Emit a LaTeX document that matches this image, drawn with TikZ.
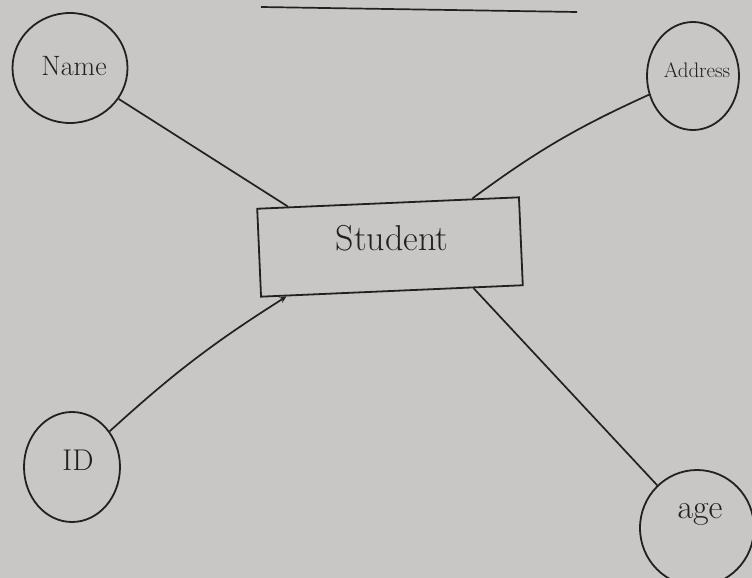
\documentclass[tikz,border=0pt]{standalone}
\usetikzlibrary{shapes.geometric,calc,arrows.meta}
\definecolor{paper}{RGB}{200,199,197}
\definecolor{ink}{RGB}{34,32,32}
\begin{document}
\begin{tikzpicture}[x=1pt,y=-1pt,
  attr/.style={ellipse,draw=ink,line width=1.8pt,inner sep=0pt,text=ink},
  entity/.style={rectangle,draw=ink,line width=1.8pt,minimum width=262pt,minimum height=88pt,text=ink,rotate=2.5},
  link/.style={draw=ink,line width=1.7pt},
  hand/.style={font=\fontsize{#1}{#1}\selectfont}]
  % paper
  \fill[paper] (0,0) rectangle (752,578);
  \useasboundingbox (0,0) rectangle (752,578);
  \clip (0,0) rectangle (752,578);

  % heading rule
  \coordinate (ruleA) at (261,7);
  \coordinate (ruleB) at (577,12);
  \draw[link] (ruleA) -- (ruleB);

  % entity
  \node[entity] (stu) at (390,247) {};
  \node[hand=36pt,text=ink] (stutext) at (392,238) {Student};

  % attributes
  \node[attr,minimum width=115pt,minimum height=110pt] (name) at (70,68) {};
  \node[hand=28pt,text=ink] at (74,66) {Name};

  \node[attr,minimum width=92pt,minimum height=108pt] (addr) at (693,76) {};
  \node[hand=21pt,text=ink] at (697,70) {Address};

  \node[attr,minimum width=96pt,minimum height=110pt] (id) at (72,467) {};
  \node[hand=30pt,text=ink] at (78,460) {ID};

  \node[attr,minimum width=114pt,minimum height=116pt] (age) at (697,528) {};
  \node[hand=34pt,text=ink] at (700,514) {age};

  % connectors
  \draw[link] (name) -- ($(stu.north west)!0.12!(stu.north east)$);
  \draw[link] (addr) to[bend right=6] ($(stu.north west)!0.82!(stu.north east)$);
  \draw[link,-{Stealth[length=7pt,width=6pt]}] (id) to[bend left=5] ($(stu.south west)!0.1!(stu.south east)$);
  \draw[link] (age) -- ($(stu.south west)!0.81!(stu.south east)$);
\end{tikzpicture}
\end{document}
